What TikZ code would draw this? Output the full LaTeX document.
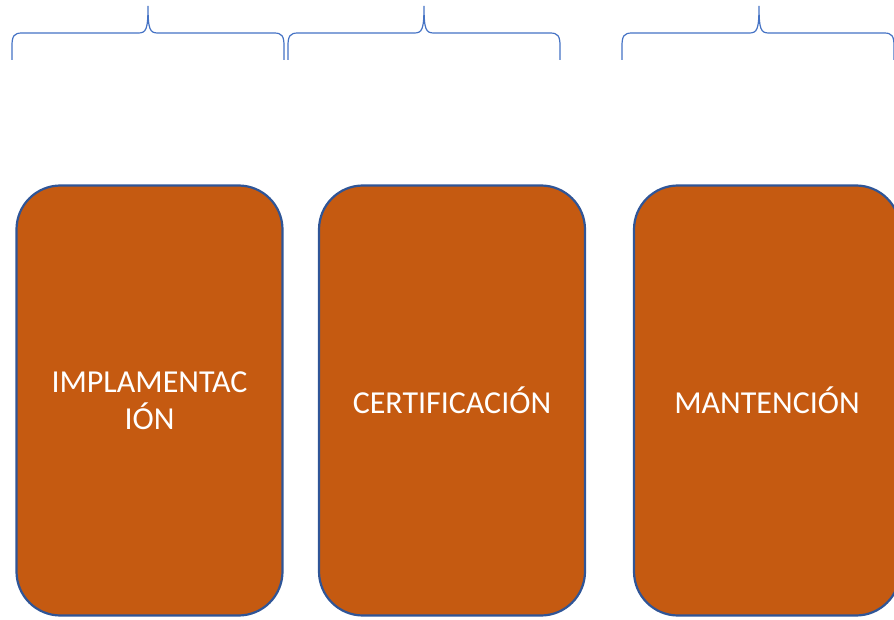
\documentclass[tikz,border=0pt]{standalone}
\usepackage{fontspec}
\setmainfont{Carlito}
\definecolor{boxfill}{HTML}{C55A11}
\definecolor{boxline}{HTML}{2F5597}
\definecolor{bracecol}{HTML}{4472C4}
\newcommand\mybrace[3]{%
  \draw[bracecolstyle] (#1,60) -- (#1,46) .. controls (#1,36) and ({#1+2},33) .. ({#1+10},33)
    -- ({#2-10},33) .. controls ({#2-2},33) and (#2,30) .. (#2,6)
    .. controls (#2,30) and ({#2+2},33) .. ({#2+10},33)
    -- ({#3-10},33) .. controls ({#3-2},33) and (#3,36) .. (#3,46) -- (#3,60);}
\begin{document}
\begin{tikzpicture}[x=1pt,y=-1pt,
  stage/.style={draw=boxline, line width=2.2pt, fill=boxfill, rounded corners=44pt,
    minimum width=266pt, minimum height=430pt, inner sep=0pt, outer sep=0pt,
    text=white, align=center, font=\fontsize{32}{37}\selectfont},
  bracecolstyle/.style={draw=bracecol, line width=1.2pt}]
\useasboundingbox (0,0) rectangle (894,620);
\begin{scope}
\clip (0,0) rectangle (894,620);
\node[stage] (impl) at (149.5,400.5) {IMPLAMENTAC\\IÓN};
\node[stage] (cert) at (452,400.5) {CERTIFICACIÓN};
\node[stage] (mant) at (767,400.5) {MANTENCIÓN};
\mybrace{12}{148}{284}
\mybrace{288}{424}{560}
\mybrace{622}{759}{894}
\end{scope}
\end{tikzpicture}
\end{document}
